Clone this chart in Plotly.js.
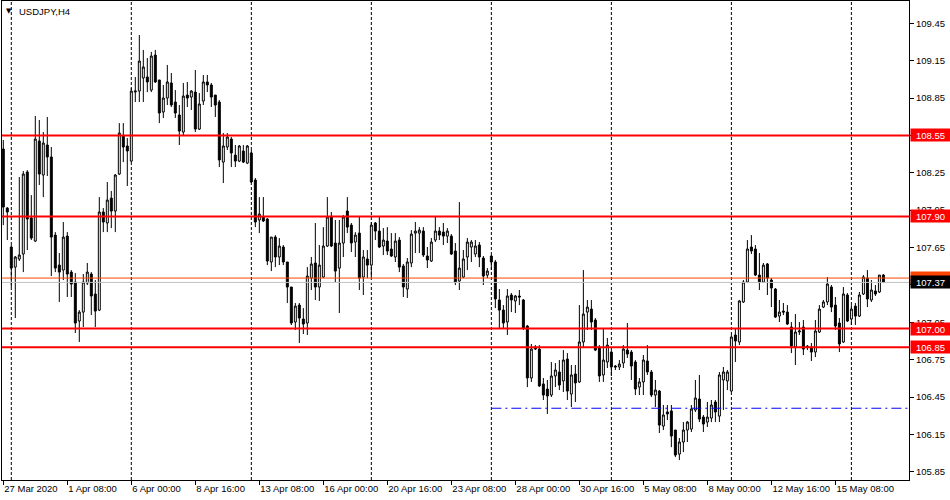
<!DOCTYPE html>
<html>
<head>
<meta charset="utf-8">
<script src="https://cdn.plot.ly/plotly-3.0.1.min.js"></script>
<style>
  html, body { margin: 0; padding: 0; background: #ffffff; }
  #chart { width: 950px; height: 500px; }
</style>
</head>
<body>
<div id="chart"></div>
<script>
// ---- Data: USDJPY H4 candles ----
const symbol = "USDJPY,H4";
const firstBar = "2020-03-27T16:00:00Z";   // first candle time (H4, weekends closed)

const open = [
108.441,107.967,107.654,107.493,107.558,107.598,108.256,107.887,107.702,108.505,
108.232,108.473,108.377,107.750,107.509,107.469,107.742,107.453,107.373,107.060,
107.132,107.365,107.437,107.277,107.148,107.935,107.847,108.047,107.943,108.240,
108.545,108.465,108.344,108.898,108.906,109.011,109.019,108.914,109.195,108.995,
108.738,108.850,108.971,108.818,108.714,108.577,108.874,108.858,108.898,108.601,
108.826,108.979,108.955,108.874,108.818,108.336,108.457,108.521,108.392,108.344,
108.425,108.328,108.409,108.192,107.871,107.895,107.879,107.534,107.734,107.574,
107.654,107.534,107.333,107.052,107.188,107.076,107.044,107.405,107.526,107.333,
107.413,107.662,107.895,107.686,107.485,107.686,107.943,107.830,107.694,107.766,
107.413,107.558,107.509,107.847,107.782,107.662,107.702,107.638,107.574,107.710,
107.501,107.317,107.526,107.766,107.766,107.782,107.582,107.542,107.710,107.782,
107.774,107.742,107.742,107.622,107.381,107.413,107.574,107.654,107.598,107.670,
107.566,107.429,107.582,107.534,107.229,107.148,107.052,107.269,107.221,107.261,
107.229,107.020,106.603,106.851,106.835,106.555,106.514,106.466,106.619,106.651,
106.579,106.755,106.474,106.635,106.571,106.892,107.132,107.156,107.068,106.851,
106.627,106.731,106.811,106.699,106.691,106.723,106.827,106.811,106.731,106.530,
106.571,106.739,106.651,106.466,106.498,106.217,106.330,106.338,106.185,105.992,
106.089,106.185,106.193,106.346,106.434,106.289,106.249,106.281,106.410,106.297,
106.587,106.579,106.498,106.948,106.892,107.213,107.373,107.654,107.638,107.429,
107.373,107.518,107.389,107.317,107.100,107.140,107.132,107.012,106.851,106.972,
107.012,106.859,106.851,106.811,106.972,107.172,107.213,107.333,107.188,107.044,
106.892,107.269,107.076,107.180,107.100,107.277,107.405,107.229,107.301,107.293,
107.429];

const high = [
108.513,107.975,107.670,107.582,108.216,108.264,108.272,108.071,108.706,108.674,
108.577,108.698,108.457,107.774,107.606,107.855,107.774,107.469,107.445,107.148,
107.437,107.526,107.453,107.389,108.055,107.967,108.176,108.104,108.240,108.649,
108.649,108.529,108.931,109.019,109.356,109.236,109.171,109.220,109.236,108.995,
108.955,109.115,109.051,108.914,108.794,108.971,108.979,108.914,109.075,108.890,
109.035,109.035,108.971,108.874,108.834,108.569,108.569,108.537,108.473,108.473,
108.473,108.473,108.433,108.208,108.055,108.055,107.887,107.734,107.750,107.726,
107.670,107.534,107.333,107.205,107.205,107.164,107.493,107.574,107.847,107.670,
107.814,108.055,107.935,107.871,107.871,107.911,108.055,107.847,107.774,107.895,
107.630,107.630,107.855,107.855,107.895,107.806,107.814,107.766,107.766,107.734,
107.518,107.566,107.790,107.855,107.814,107.814,107.654,107.726,107.895,107.814,
107.847,107.806,107.758,107.686,108.015,107.630,107.726,107.710,107.710,107.694,
107.582,107.485,107.590,107.550,107.317,107.188,107.317,107.285,107.269,107.309,
107.237,107.028,106.876,106.867,106.867,106.603,106.587,106.731,106.723,106.747,
106.827,106.803,106.707,106.707,107.188,107.469,107.229,107.229,107.084,106.867,
107.004,106.924,106.827,106.707,106.747,106.867,107.044,106.827,106.747,106.603,
106.787,106.867,106.667,106.587,106.506,106.386,106.386,106.386,106.185,106.121,
106.249,106.257,106.386,106.587,106.627,106.306,106.410,106.426,106.426,106.651,
106.691,106.667,106.948,107.004,107.229,107.389,107.710,107.750,107.670,107.606,
107.526,107.526,107.405,107.325,107.229,107.205,107.188,107.052,107.116,107.052,
107.068,106.867,106.884,107.068,107.188,107.229,107.413,107.349,107.253,107.084,
107.333,107.285,107.188,107.205,107.293,107.429,107.469,107.389,107.349,107.429,
107.437];

const low = [
107.830,107.710,107.333,107.084,107.542,107.453,107.630,107.710,107.694,108.152,
108.055,108.224,107.421,107.453,107.213,107.389,107.253,107.253,106.964,106.892,
107.012,107.349,107.108,107.012,107.140,107.774,107.774,107.806,107.774,108.232,
108.336,108.144,108.336,108.818,108.818,108.818,108.898,108.898,108.971,108.649,
108.690,108.794,108.778,108.690,108.473,108.553,108.778,108.754,108.577,108.593,
108.794,108.898,108.778,108.698,108.296,108.168,108.433,108.296,108.296,108.336,
108.328,108.320,108.168,107.814,107.766,107.855,107.509,107.461,107.493,107.509,
107.509,107.205,107.028,106.988,106.884,106.956,106.948,107.309,107.229,107.221,
107.405,107.654,107.654,107.373,107.124,107.574,107.766,107.614,107.574,107.309,
107.269,107.405,107.413,107.710,107.646,107.590,107.590,107.574,107.534,107.453,
107.253,107.245,107.493,107.606,107.606,107.574,107.485,107.534,107.694,107.710,
107.670,107.686,107.590,107.349,107.309,107.405,107.469,107.534,107.574,107.493,
107.349,107.405,107.469,107.164,107.004,107.004,106.948,107.132,107.124,107.188,
106.988,106.530,106.571,106.827,106.530,106.426,106.314,106.450,106.530,106.506,
106.490,106.426,106.370,106.410,106.563,106.851,106.988,106.988,106.819,106.571,
106.571,106.683,106.619,106.667,106.667,106.683,106.763,106.587,106.466,106.466,
106.466,106.627,106.450,106.370,106.161,106.185,106.265,106.048,105.968,105.944,
106.008,106.089,106.169,106.330,106.249,106.169,106.209,106.249,106.249,106.249,
106.346,106.506,106.490,106.731,106.867,107.205,107.365,107.598,107.421,107.309,
107.365,107.269,107.172,107.084,107.052,107.108,107.028,106.803,106.707,106.948,
106.787,106.827,106.739,106.771,106.964,107.164,107.188,107.132,106.988,106.811,
106.884,107.052,107.028,107.028,107.092,107.269,107.172,107.213,107.261,107.285,
107.365];

const close = [
107.975,107.935,107.485,107.574,107.590,108.240,107.879,107.726,108.521,108.240,
108.489,108.377,107.734,107.485,107.453,107.734,107.437,107.357,107.044,107.132,
107.373,107.453,107.261,107.140,107.935,107.855,108.031,107.943,108.232,108.569,
108.457,108.425,108.906,108.906,109.147,109.099,108.979,109.187,108.979,108.730,
108.850,108.979,108.794,108.730,108.585,108.866,108.850,108.906,108.601,108.802,
108.979,108.955,108.858,108.794,108.353,108.465,108.537,108.409,108.344,108.465,
108.336,108.465,108.176,107.855,107.919,107.863,107.542,107.734,107.574,107.662,
107.534,107.333,107.044,107.180,107.084,107.036,107.421,107.518,107.333,107.509,
107.662,107.895,107.662,107.461,107.686,107.895,107.814,107.686,107.750,107.405,
107.574,107.509,107.830,107.782,107.654,107.710,107.622,107.582,107.702,107.493,
107.333,107.534,107.758,107.782,107.790,107.590,107.550,107.694,107.782,107.750,
107.742,107.782,107.598,107.373,107.485,107.558,107.694,107.694,107.662,107.574,
107.421,107.461,107.534,107.237,107.148,107.044,107.261,107.229,107.261,107.253,
107.004,106.603,106.835,106.835,106.539,106.466,106.458,106.619,106.667,106.546,
106.747,106.498,106.627,106.563,106.892,107.116,107.172,107.052,106.827,106.619,
106.747,106.867,106.691,106.691,106.715,106.835,106.795,106.699,106.514,106.571,
106.747,106.651,106.466,106.506,106.225,106.306,106.314,106.137,105.984,106.089,
106.185,106.249,106.354,106.442,106.273,106.233,106.289,106.386,106.330,106.627,
106.651,106.651,106.932,106.900,107.221,107.373,107.638,107.622,107.429,107.373,
107.509,107.405,107.325,107.092,107.132,107.132,107.036,106.859,106.972,106.980,
106.835,106.851,106.811,106.980,107.156,107.213,107.357,107.172,107.020,106.876,
107.277,107.060,107.156,107.100,107.269,107.413,107.237,107.309,107.277,107.429,
107.37];

// Horizontal levels drawn on the chart
const levels = [108.55, 107.90, 107.00, 106.85];
const bidPrice = 107.37;
const askPrice = 107.405;
const askLabel = "107.40";
const supportLevel = 106.36;
const supportFrom = "2020-04-27T00:00:00Z";

// ---- Build H4 time axis (forex: no Saturday/Sunday bars) ----
const months = ["Jan","Feb","Mar","Apr","May","Jun","Jul","Aug","Sep","Oct","Nov","Dec"];
const n = close.length;
const times = [];
let t = Date.parse(firstBar);
while (times.length < n) {
  const d = new Date(t);
  const dow = d.getUTCDay();
  if (dow !== 0 && dow !== 6) times.push(d);
  t += 4 * 3600 * 1000;
}
const idx = times.map((_, i) => i);
const pad = v => (v < 10 ? "0" : "") + v;

const tickvals = [], ticktext = [];
for (let i = 0; i < n; i += 16) {
  const d = times[i];
  tickvals.push(i);
  if (i === 0) ticktext.push(d.getUTCDate() + " " + months[d.getUTCMonth()] + " " + d.getUTCFullYear());
  else ticktext.push(d.getUTCDate() + " " + months[d.getUTCMonth()] + " " + pad(d.getUTCHours()) + ":" + pad(d.getUTCMinutes()));
}
const weekStarts = idx.filter(i => times[i].getUTCDay() === 1 && times[i].getUTCHours() === 0);
const supportIdx = idx.find(i => times[i].getTime() >= Date.parse(supportFrom));

const xMin = -0.325, xMax = n - 1 + 6.4;
const yMin = 105.784, yMax = 109.629;

const FONT = "Liberation Sans, Arial, sans-serif";

const shapes = [];
weekStarts.forEach(i => shapes.push({
  type: "line", xref: "x", yref: "paper", x0: i, x1: i, y0: 0, y1: 1,
  line: { color: "#000000", width: 1, dash: "3px,2px" }, layer: "below"
}));
shapes.push({
  type: "line", xref: "x", yref: "y", x0: supportIdx, x1: xMax, y0: supportLevel, y1: supportLevel,
  line: { color: "#0000ff", width: 1, dash: "10px,4px,2px,4px" }, layer: "above"
});
shapes.push({
  type: "line", xref: "paper", yref: "y", x0: 0, x1: 1, y0: bidPrice, y1: bidPrice,
  line: { color: "#c0c0c0", width: 1 }, layer: "above"
});
shapes.push({
  type: "line", xref: "paper", yref: "y", x0: 0, x1: 1, y0: askPrice, y1: askPrice,
  line: { color: "#ff4500", width: 1 }, layer: "above"
});
levels.forEach(v => shapes.push({
  type: "line", xref: "paper", yref: "y", x0: 0, x1: 1, y0: v, y1: v,
  line: { color: "#ff0000", width: 2 }, layer: "above"
}));

const priceBox = (v, text, bg) => ({
  xref: "paper", x: 1, xanchor: "left", xshift: 1,
  yref: "y", y: v, yanchor: "middle",
  text: text, showarrow: false, bgcolor: bg, borderpad: 1,
  width: 37, height: 10,
  font: { family: FONT, size: 9.5, color: "#ffffff" }
});

const annotations = [
  { xref: "paper", yref: "paper", x: 0, y: 1, xanchor: "left", yanchor: "top",
    xshift: 2, yshift: -4, text: "▼", showarrow: false,
    font: { family: "DejaVu Sans", size: 7, color: "#000000" } },
  { xref: "paper", yref: "paper", x: 0, y: 1, xanchor: "left", yanchor: "top",
    xshift: 15, yshift: -3, text: symbol, showarrow: false,
    font: { family: FONT, size: 9.5, color: "#000000" } }
];
levels.forEach(v => annotations.push(priceBox(v, v.toFixed(2), "#ff0000")));
annotations.push(priceBox(askPrice, askLabel, "#ff4500"));
annotations.push(priceBox(bidPrice, bidPrice.toFixed(2), "#000000"));

const trace = {
  type: "candlestick",
  x: idx, open: open, high: high, low: low, close: close,
  increasing: { line: { color: "#000000", width: 1 }, fillcolor: "#ffffff" },
  decreasing: { line: { color: "#000000", width: 1 }, fillcolor: "#000000" },
  whiskerwidth: 0,
  hoverinfo: "skip"
};

const layout = {
  width: 950, height: 500,
  margin: { l: 2, r: 41, t: 1, b: 20 },
  paper_bgcolor: "#ffffff", plot_bgcolor: "#ffffff",
  showlegend: false,
  xaxis: {
    type: "linear", range: [xMin, xMax],
    tickmode: "array", tickvals: tickvals, ticktext: ticktext,
    tickangle: 0,
    ticks: "outside", ticklen: 4, tickcolor: "#000000", tickwidth: 1,
    ticklabelposition: "outside right",
    showline: true, linecolor: "#000000", linewidth: 1, mirror: true,
    showgrid: false, zeroline: false,
    rangeslider: { visible: false },
    tickfont: { family: FONT, size: 9.5, color: "#000000" },
    fixedrange: true
  },
  yaxis: {
    side: "right", range: [yMin, yMax],
    tickmode: "linear", tick0: 105.85, dtick: 0.3, tickformat: ".2f",
    ticks: "outside", ticklen: 4, tickcolor: "#000000", tickwidth: 1,
    showline: true, linecolor: "#000000", linewidth: 1, mirror: true,
    showgrid: false, zeroline: false,
    tickfont: { family: FONT, size: 9.5, color: "#000000" },
    fixedrange: true
  },
  shapes: shapes,
  annotations: annotations
};

Plotly.newPlot("chart", [trace], layout, { staticPlot: true, displayModeBar: false });
</script>
</body>
</html>
